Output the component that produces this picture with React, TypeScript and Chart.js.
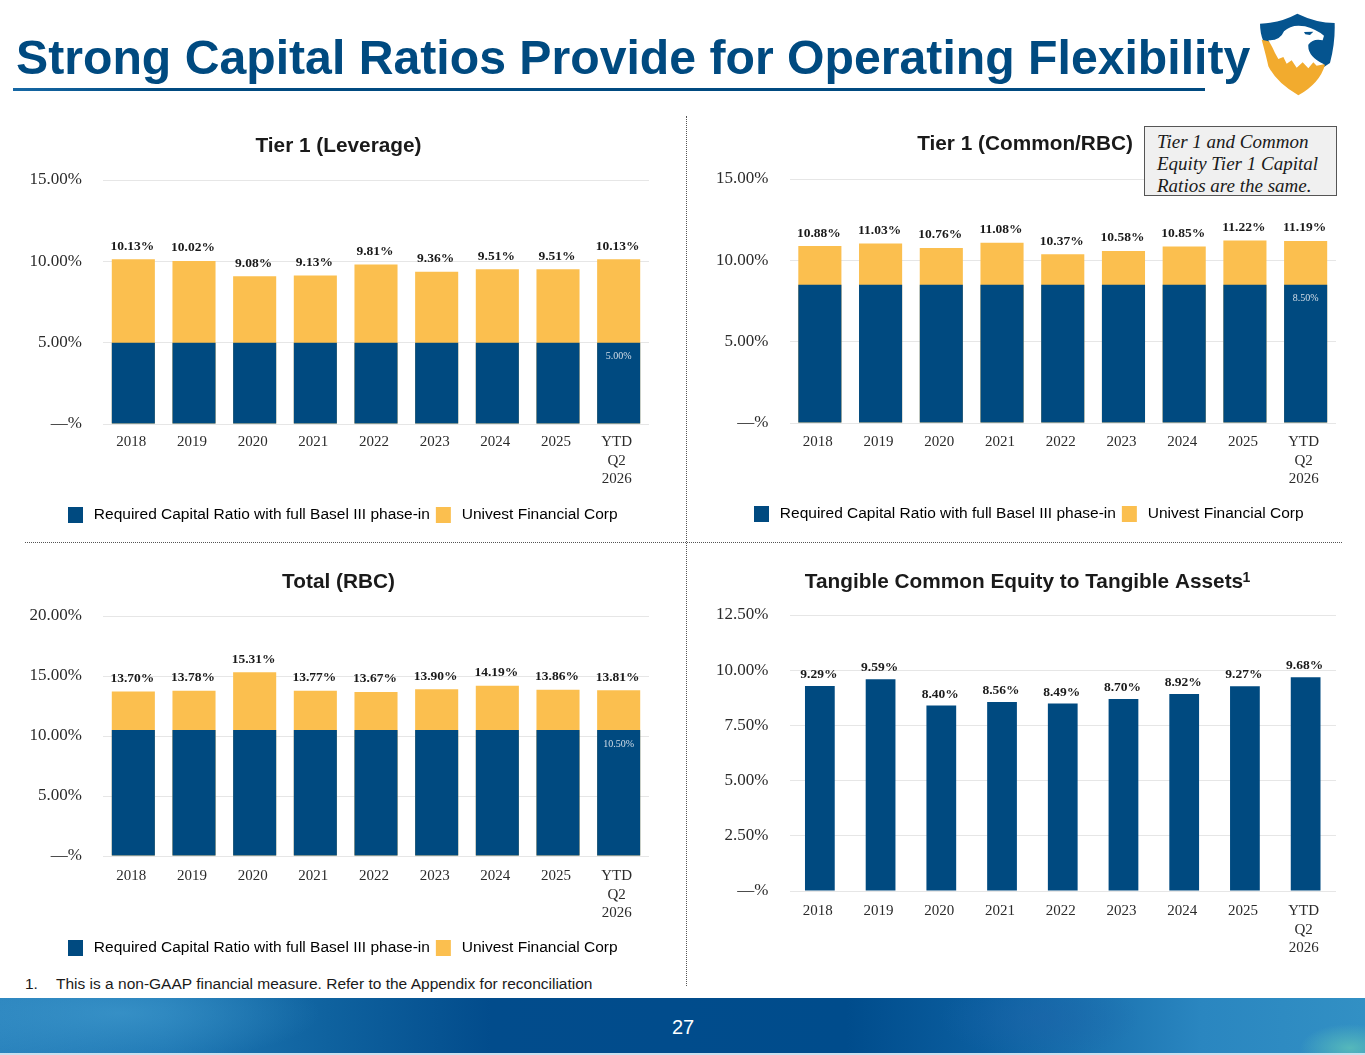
import React, { useEffect, useRef } from "react";
import { Chart, registerables } from "chart.js";

Chart.register(...registerables);

const categories: (string | string[])[] = ["2018", "2019", "2020", "2021", "2022", "2023", "2024", "2025", ["YTD", "Q2", "2026"]];

const leverageTotals = [10.13, 10.02, 9.08, 9.13, 9.81, 9.36, 9.51, 9.51, 10.13];
const leverageRequired = [5, 5, 5, 5, 5, 5, 5, 5, 5];
const commonTotals = [10.88, 11.03, 10.76, 11.08, 10.37, 10.58, 10.85, 11.22, 11.19];
const commonRequired = [8.5, 8.5, 8.5, 8.5, 8.5, 8.5, 8.5, 8.5, 8.5];
const rbcTotals = [13.7, 13.78, 15.31, 13.77, 13.67, 13.9, 14.19, 13.86, 13.81];
const rbcRequired = [10.5, 10.5, 10.5, 10.5, 10.5, 10.5, 10.5, 10.5, 10.5];
const tangibleValues = [9.29, 9.59, 8.4, 8.56, 8.49, 8.7, 8.92, 9.27, 9.68];

const REQUIRED_LABEL = "Required Capital Ratio with full Basel III phase-in";
const UNIVEST_LABEL = "Univest Financial Corp";
const BLUE = "#004a80";
const GOLD = "#fbbf4f";
const SERIF = "'Liberation Serif', serif";
const SANS = "'Liberation Sans', sans-serif";

type Panel = {
  title: string;
  totals: number[];
  required?: number[];
  max: number;
  step: number;
  left: number;
  top: number;
  width: number;
  height: number;
  padTop: number;
  padRight: number;
  padBottom: number;
  yWidth: number;
  xHeight: number;
  xPad: number;
  barPct: number;
  labelGap: number;
  titleX: number;
  titleTop: number;
  legendX?: number;
  legendTop?: number;
};

const panels: Panel[] = [
  { title: "Tier 1 (Leverage)", totals: leverageTotals, required: leverageRequired, max: 15, step: 5, left: 0, top: 120, width: 686, height: 418, padTop: 36, padRight: 37, padBottom: 2, yWidth: 103, xHeight: 80, xPad: 1, barPct: 0.71, labelGap: 13, titleX: 338.5, titleTop: 134, legendX: 68, legendTop: 507 },
  { title: "Tier 1 (Common/RBC)", totals: commonTotals, required: commonRequired, max: 15, step: 5, left: 687, top: 119, width: 678, height: 418, padTop: 36, padRight: 29, padBottom: 2, yWidth: 102.5, xHeight: 80, xPad: 2, barPct: 0.71, labelGap: 13, titleX: 1025, titleTop: 132, legendX: 754, legendTop: 506 },
  { title: "Total (RBC)", totals: rbcTotals, required: rbcRequired, max: 20, step: 5, left: 0, top: 556, width: 686, height: 414, padTop: 36, padRight: 37, padBottom: 2, yWidth: 103, xHeight: 80, xPad: 3, barPct: 0.71, labelGap: 13, titleX: 338.5, titleTop: 570, legendX: 68, legendTop: 940 },
  { title: "Tangible Common Equity to Tangible Assets", totals: tangibleValues, max: 12.5, step: 2.5, left: 687, top: 555, width: 678, height: 420, padTop: 36, padRight: 29, padBottom: 4, yWidth: 102.5, xHeight: 80, xPad: 3, barPct: 0.49, labelGap: 11.5, titleX: 1024, titleTop: 570 },
];

function ChartPanel({ panel }: { panel: Panel }) {
  const ref = useRef<HTMLCanvasElement | null>(null);
  useEffect(() => {
    if (!ref.current) return;
    const datasets: any[] = [];
    if (panel.required) {
      datasets.push({ label: REQUIRED_LABEL, data: panel.required, backgroundColor: BLUE, order: 1 });
      datasets.push({ label: UNIVEST_LABEL, data: panel.totals, backgroundColor: GOLD, order: 2 });
    } else {
      datasets.push({ label: "Tangible Common Equity to Tangible Assets", data: panel.totals, backgroundColor: BLUE, order: 1 });
    }
    const barLabels = {
      id: "barLabels",
      afterDatasetsDraw(chart: any) {
        const ctx = chart.ctx;
        const totalIdx = panel.required ? 1 : 0;
        ctx.save();
        ctx.textAlign = "center";
        ctx.textBaseline = "middle";
        ctx.font = `bold 13.5px ${SERIF}`;
        ctx.fillStyle = "#1a1a1a";
        chart.getDatasetMeta(totalIdx).data.forEach((bar: any, i: number) => {
          ctx.fillText(panel.totals[i].toFixed(2) + "%", bar.x - 1, bar.y - panel.labelGap);
        });
        if (panel.required) {
          const last = panel.required.length - 1;
          const bar = chart.getDatasetMeta(0).data[last];
          ctx.font = `10px ${SERIF}`;
          ctx.fillStyle = "#d5dfe8";
          ctx.fillText(panel.required[last].toFixed(2) + "%", bar.x, bar.y + 14);
        }
        ctx.restore();
      },
    };
    const placeBoxes = {
      id: "placeBoxes",
      afterLayout(chart: any) {
        const title = chart.titleBlock;
        if (title) {
          const cx = panel.titleX - panel.left;
          title.left = cx - 280;
          title.right = cx + 280;
          title.top = panel.titleTop - panel.top;
          title.bottom = title.top + 24;
        }
        const legend = chart.legend;
        if (legend && panel.legendX !== undefined && panel.legendTop !== undefined) {
          const pad = legend.options.labels.padding;
          const w = legend.right - legend.left;
          legend.left = panel.legendX - panel.left - pad;
          legend.right = legend.left + w;
          const h = legend.bottom - legend.top;
          legend.top = panel.legendTop - panel.top - pad;
          legend.bottom = legend.top + h;
        }
      },
    };
    const chart = new Chart(ref.current, {
      type: "bar",
      data: { labels: categories as any, datasets },
      plugins: [barLabels, placeBoxes],
      options: {
        responsive: false,
        animation: false,
        devicePixelRatio: 1,
        layout: { padding: { top: panel.padTop, right: panel.padRight, bottom: panel.padBottom, left: 0 } },
        datasets: { bar: { categoryPercentage: 1, barPercentage: panel.barPct } },
        plugins: {
          tooltip: { enabled: false },
          title: {
            display: true,
            text: panel.title,
            padding: 0,
            color: "#1a1a1a",
            font: { family: SANS, size: 20.8, weight: "bold", lineHeight: "24px" },
          },
          legend: {
            display: !!panel.required,
            position: "bottom",
            align: "start",
            labels: {
              boxWidth: 15,
              boxHeight: 16,
              padding: 6,
              color: "#1a1a1a",
              font: { family: SANS, size: 15.5, lineHeight: "18px" },
              generateLabels(c: any) {
                return c.data.datasets.map((d: any, i: number) => ({
                  text: "\u2009" + d.label,
                  fillStyle: d.backgroundColor,
                  strokeStyle: d.backgroundColor,
                  lineWidth: 0,
                  datasetIndex: i,
                }));
              },
            },
          },
        },
        scales: {
          x: {
            stacked: true,
            grid: { display: false },
            border: { display: false },
            afterFit(scale: any) {
              scale.height = panel.xHeight;
            },
            ticks: {
              autoSkip: false,
              maxRotation: 0,
              minRotation: 0,
              padding: panel.xPad,
              labelOffset: -2,
              color: "#2b2b2b",
              font: { family: SERIF, size: 15, lineHeight: 1.23 },
            },
          },
          y: {
            stacked: false,
            min: 0,
            max: panel.max,
            border: { display: false },
            grid: { color: "#e6e6e6", lineWidth: 1, drawTicks: false },
            afterFit(scale: any) {
              scale.width = panel.yWidth;
            },
            ticks: {
              stepSize: panel.step,
              padding: 21,
              color: "#2b2b2b",
              font: { family: SERIF, size: 17 },
              callback: (v: any) => (Number(v) === 0 ? "—%" : Number(v).toFixed(2) + "%"),
            },
          },
        },
      } as any,
    });
    return () => chart.destroy();
  }, [panel]);
  return (
    <canvas
      ref={ref}
      width={panel.width}
      height={panel.height}
      style={{ position: "absolute", left: panel.left, top: panel.top, width: panel.width, height: panel.height }}
    />
  );
}

function Logo() {
  return (
    <svg viewBox="480 40 225 250" style={{ position: "absolute", left: 1260, top: 13.3, width: 75, height: 83.3 }}>
      <path d="M480 72 Q540 70 592 42 Q650 70 704 70 Q706 130 690 190 L630 230 L520 160 L490 125 Q480 100 480 72Z" fill="#05548f" />
      <path d="M485 120 Q500 175 505 200 Q530 250 595 287 Q660 250 675 195 L600 170 L530 130Z" fill="#f2ab2e" />
      <path d="M505 122 Q540 124 552 95 Q575 72 615 80 Q650 90 672 108 L668 122 Q640 115 625 135 Q622 170 672 194 L650 198 L640 188 L625 206 L608 188 L590 204 L575 182 L560 192 L550 172 L535 178 L525 160 Q515 138 505 122Z" fill="#ffffff" />
      <path d="M612 97 L640 96 L630 106 L616 104Z" fill="#05548f" />
    </svg>
  );
}

export default function App() {
  return (
    <div style={{ position: "absolute", left: 0, top: 0, width: 1365, height: 1055, background: "#fff", overflow: "hidden" }}>
      <div style={{ position: "absolute", left: 16, top: 30, fontFamily: SANS, fontWeight: 700, fontSize: 48.2, lineHeight: "54px", color: "#004a80", whiteSpace: "nowrap" }}>
        Strong Capital Ratios Provide for Operating Flexibility
      </div>
      <div style={{ position: "absolute", left: 13, top: 87.5, width: 1192, height: 3.5, background: "linear-gradient(90deg,#1668a5,#004a80 12%,#004a80)" }} />
      <Logo />
      <div style={{ position: "absolute", left: 686, top: 116, height: 870, borderLeft: "1px dotted #555" }} />
      <div style={{ position: "absolute", left: 25, top: 542, width: 1317, borderTop: "1px dotted #555" }} />
      {panels.map((p) => (
        <ChartPanel key={p.title} panel={p} />
      ))}
      <div style={{ position: "absolute", left: 1242.5, top: 569, fontFamily: SANS, fontWeight: 700, fontSize: 14, lineHeight: "16px", color: "#1a1a1a" }}>1</div>
      <div style={{ position: "absolute", left: 1144, top: 126, width: 193, height: 70, boxSizing: "border-box", background: "#f0f0f0", border: "1.5px solid #555", padding: "4px 0 0 12px", fontFamily: SERIF, fontStyle: "italic", fontSize: 19, lineHeight: "22px", color: "#1a1a1a", whiteSpace: "nowrap" }}>
        Tier 1 and Common
        <br />
        Equity Tier 1 Capital
        <br />
        Ratios are the same.
      </div>
      <div style={{ position: "absolute", left: 25, top: 975, fontFamily: SANS, fontSize: 15.5, lineHeight: "18px", color: "#1a1a1a", whiteSpace: "nowrap" }}>
        1.
        <span style={{ position: "absolute", left: 31, top: 0 }}>This is a non-GAAP financial measure. Refer to the Appendix for reconciliation</span>
      </div>
      <div
        style={{
          position: "absolute",
          left: 0,
          top: 998,
          width: 1365,
          height: 55,
          background:
            "radial-gradient(ellipse 50px 24px at 1350px 50px,#55b8bb 0,rgba(85,184,187,0) 100%),radial-gradient(ellipse 200px 50px at 120px 15px,rgba(70,160,210,.55) 0,rgba(70,160,210,0) 100%),radial-gradient(ellipse 100px 40px at 1040px 20px,rgba(30,100,170,.5) 0,rgba(30,100,170,0) 100%),linear-gradient(90deg,#2a83bd 0,#1f78b4 12%,#0f629f 24%,#024c8c 36%,#004c8c 62%,#0b5e9f 72%,#2a86c0 88%,#3290c4 100%)",
        }}
      />
      <div style={{ position: "absolute", left: 0, top: 1053, width: 1365, height: 2, background: "#c9e0ee" }} />
      <div style={{ position: "absolute", left: 672, top: 1014, width: 22, textAlign: "center", fontFamily: SANS, fontSize: 20, lineHeight: "26px", color: "#fff" }}>27</div>
    </div>
  );
}
